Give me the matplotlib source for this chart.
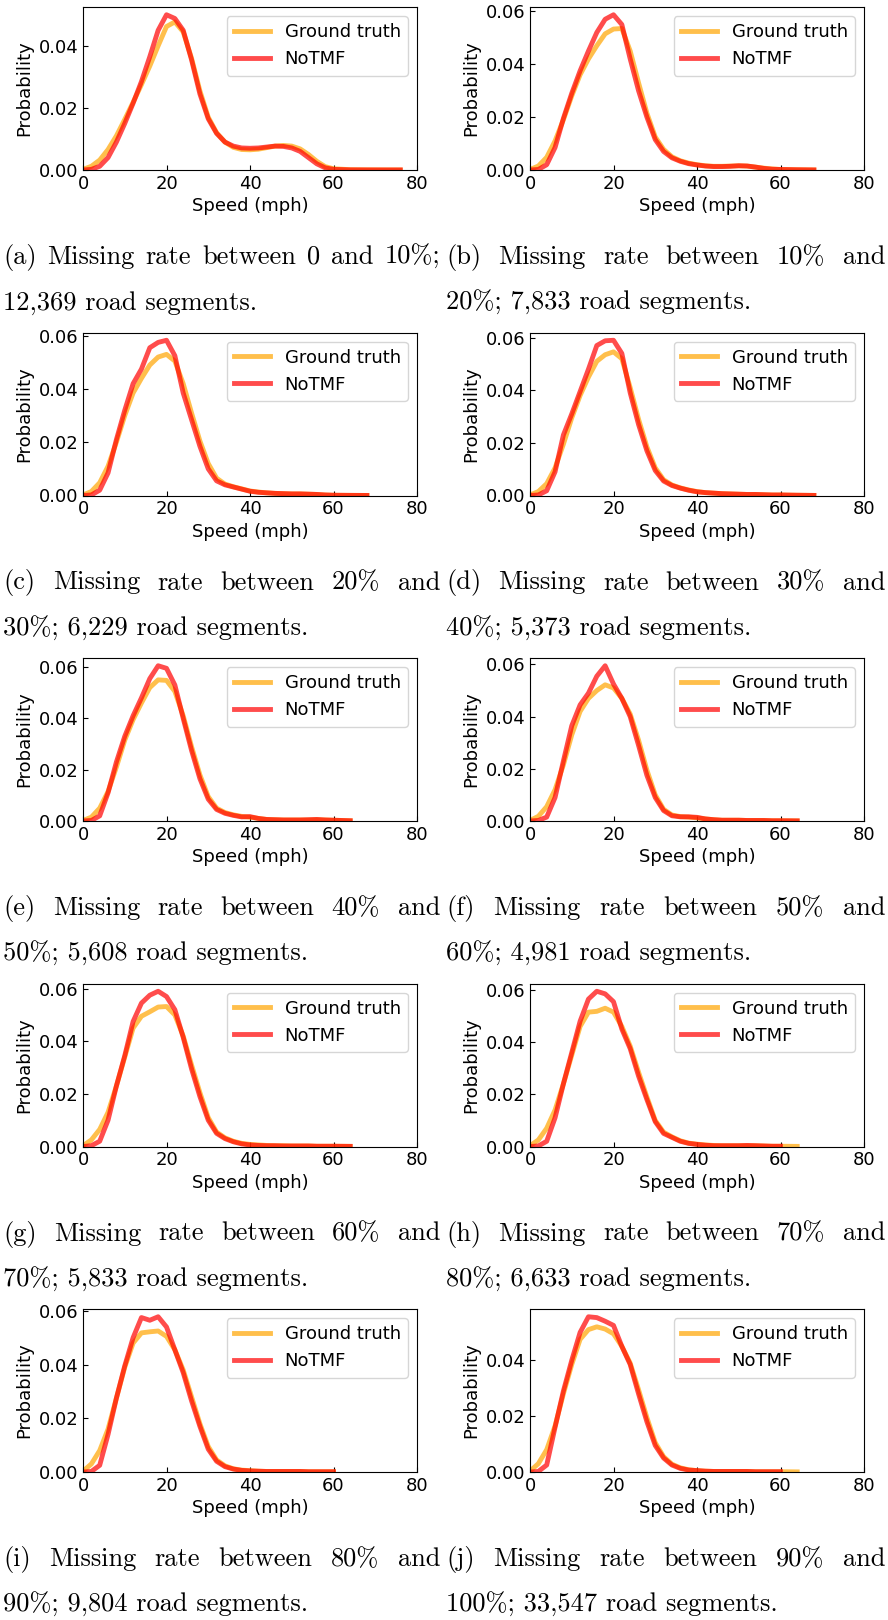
import numpy as np
import matplotlib
matplotlib.use('Agg')
import matplotlib.pyplot as plt
from matplotlib.ticker import MultipleLocator

nan = np.nan

# speed grid (mph) the curves were read on
SPEED = list(range(0, 61, 2)) + [64, 68, 72, 76]

# --- probability curves, one pair per panel ---
GT_A = [0.0002, 0.0012, 0.0032, 0.0066, 0.0110, 0.0163, 0.0218, 0.0275, 0.0335, 0.0400, 0.0462, 0.0477,
        0.0445, 0.0360, 0.0255, 0.0170, 0.0120, 0.0090, 0.0073, 0.0066, 0.0065, 0.0067, 0.0072, 0.0077,
        0.0079, 0.0077, 0.0068, 0.0050, 0.0028, 0.0011, 0.0004, 0.0001, 0.00005, 0.00003, 0.00002]
NT_A = [0.0, 0.0002, 0.0012, 0.0040, 0.0090, 0.0150, 0.0215, 0.0285, 0.0365, 0.0450, 0.0500, 0.0488,
        0.0450, 0.0355, 0.0245, 0.0165, 0.0118, 0.0090, 0.0077, 0.0071, 0.0070, 0.0071, 0.0074, 0.0077,
        0.0076, 0.0071, 0.0060, 0.0040, 0.0020, 0.0007, 0.0002, 0.00005, 0.00003, 0.00002, 0.00002]

GT_B = [0.0002, 0.0015, 0.0048, 0.0110, 0.0190, 0.0280, 0.0360, 0.0420, 0.0470, 0.0515, 0.0533, 0.0535,
        0.0450, 0.0330, 0.0215, 0.0125, 0.0078, 0.0050, 0.0035, 0.0026, 0.0020, 0.0016, 0.0014, 0.0014,
        0.0015, 0.0016, 0.0015, 0.0011, 0.0007, 0.0004, 0.0002, 0.0001, 0.00003, nan, nan]
NT_B = [0.0, 0.0002, 0.0020, 0.0085, 0.0195, 0.0290, 0.0375, 0.0450, 0.0520, 0.0570, 0.0587, 0.0550,
        0.0420, 0.0300, 0.0200, 0.0115, 0.0070, 0.0046, 0.0033, 0.0024, 0.0019, 0.0015, 0.0013, 0.0013,
        0.0014, 0.0016, 0.0015, 0.0011, 0.0006, 0.0003, 0.0002, 0.0001, 0.00003, nan, nan]

GT_C = [0.0002, 0.0015, 0.0048, 0.0110, 0.0200, 0.0300, 0.0385, 0.0440, 0.0490, 0.0520, 0.0530, 0.0505,
        0.0420, 0.0310, 0.0205, 0.0120, 0.0065, 0.0043, 0.0033, 0.0025, 0.0017, 0.0013, 0.0010, 0.0008,
        0.0007, 0.0006, 0.0006, 0.0005, 0.0004, 0.0002, 0.0001, 0.00005, 0.00002, nan, nan]
NT_C = [0.0, 0.0002, 0.0020, 0.0085, 0.0210, 0.0320, 0.0420, 0.0475, 0.0555, 0.0575, 0.0583, 0.0525,
        0.0385, 0.0285, 0.0185, 0.0100, 0.0055, 0.0040, 0.0032, 0.0024, 0.0016, 0.0012, 0.0010, 0.0008,
        0.0007, 0.0006, 0.0006, 0.0005, 0.0004, 0.0002, 0.0001, 0.00005, 0.00002, nan, nan]

GT_D = [0.0002, 0.0015, 0.0045, 0.0105, 0.0195, 0.0295, 0.0380, 0.0450, 0.0510, 0.0535, 0.0546, 0.0520,
        0.0410, 0.0290, 0.0185, 0.0105, 0.0060, 0.0040, 0.0029, 0.0021, 0.0015, 0.0011, 0.0009, 0.0007,
        0.0006, 0.0005, 0.0004, 0.0004, 0.0003, 0.0002, 0.0002, 0.0001, 0.00003, nan, nan]
NT_D = [0.0, 0.0002, 0.0018, 0.0090, 0.0230, 0.0310, 0.0395, 0.0480, 0.0570, 0.0588, 0.0590, 0.0540,
        0.0390, 0.0270, 0.0170, 0.0095, 0.0055, 0.0038, 0.0028, 0.0020, 0.0014, 0.0011, 0.0009, 0.0007,
        0.0006, 0.0005, 0.0004, 0.0004, 0.0003, 0.0002, 0.0002, 0.0001, 0.00003, nan, nan]

GT_E = [0.0002, 0.0015, 0.0050, 0.0115, 0.0210, 0.0315, 0.0395, 0.0460, 0.0520, 0.0550, 0.0548, 0.0505,
        0.0410, 0.0290, 0.0180, 0.0095, 0.0050, 0.0033, 0.0024, 0.0018, 0.0015, 0.0010, 0.0006, 0.0005,
        0.0004, 0.0004, 0.0004, 0.0004, 0.0005, 0.0004, 0.0003, 0.0001, nan, nan, nan]
NT_E = [0.0, 0.0002, 0.0020, 0.0110, 0.0230, 0.0330, 0.0410, 0.0480, 0.0555, 0.0605, 0.0595, 0.0530,
        0.0400, 0.0275, 0.0165, 0.0085, 0.0045, 0.0030, 0.0022, 0.0016, 0.0017, 0.0010, 0.0006, 0.0005,
        0.0004, 0.0004, 0.0004, 0.0005, 0.0006, 0.0004, 0.0003, 0.0001, nan, nan, nan]

GT_F = [0.0002, 0.0018, 0.0055, 0.0120, 0.0215, 0.0330, 0.0420, 0.0470, 0.0500, 0.0522, 0.0510, 0.0470,
        0.0410, 0.0310, 0.0195, 0.0100, 0.0045, 0.0023, 0.0017, 0.0015, 0.0012, 0.0008, 0.0005, 0.0003,
        0.0003, 0.0003, 0.0002, 0.0002, 0.0002, 0.0001, 0.0001, 0.00005, nan, nan, nan]
NT_F = [0.0, 0.0002, 0.0015, 0.0090, 0.0230, 0.0365, 0.0445, 0.0490, 0.0555, 0.0595, 0.0525, 0.0470,
        0.0400, 0.0290, 0.0175, 0.0090, 0.0040, 0.0020, 0.0016, 0.0016, 0.0014, 0.0008, 0.0005, 0.0003,
        0.0003, 0.0003, 0.0002, 0.0002, 0.0002, 0.0001, 0.0001, 0.00005, nan, nan, nan]

GT_G = [0.0003, 0.0025, 0.0065, 0.0130, 0.0230, 0.0340, 0.0450, 0.0495, 0.0512, 0.0530, 0.0532, 0.0500,
        0.0420, 0.0310, 0.0205, 0.0110, 0.0055, 0.0033, 0.0020, 0.0012, 0.0008, 0.0006, 0.0004, 0.0003,
        0.0003, 0.0002, 0.0002, 0.0002, 0.0001, 0.0001, 0.0001, 0.00005, nan, nan, nan]
NT_G = [0.0, 0.0003, 0.0020, 0.0100, 0.0230, 0.0345, 0.0475, 0.0545, 0.0575, 0.0590, 0.0570, 0.0520,
        0.0415, 0.0295, 0.0190, 0.0100, 0.0050, 0.0030, 0.0018, 0.0010, 0.0006, 0.0004, 0.0003, 0.0003,
        0.0002, 0.0002, 0.0002, 0.0002, 0.0001, 0.0001, 0.0001, 0.00005, nan, nan, nan]

GT_H = [0.0003, 0.0025, 0.0070, 0.0140, 0.0240, 0.0350, 0.0460, 0.0515, 0.0518, 0.0530, 0.0515, 0.0460,
        0.0385, 0.0285, 0.0190, 0.0100, 0.0055, 0.0037, 0.0022, 0.0013, 0.0009, 0.0006, 0.0004, 0.0003,
        0.0003, 0.0003, 0.0003, 0.0003, 0.0002, 0.0001, 0.0001, 0.00005, nan, nan, nan]
NT_H = [0.0, 0.0002, 0.0020, 0.0110, 0.0240, 0.0360, 0.0480, 0.0565, 0.0595, 0.0585, 0.0555, 0.0450,
        0.0375, 0.0270, 0.0180, 0.0095, 0.0050, 0.0035, 0.0020, 0.0012, 0.0008, 0.0005, 0.0003, 0.0003,
        0.0003, 0.0003, 0.0004, 0.0003, 0.0002, 0.0001, 0.0001, nan, nan, nan, nan]

GT_I = [0.0003, 0.0030, 0.0080, 0.0160, 0.0275, 0.0390, 0.0480, 0.0518, 0.0522, 0.0525, 0.0505, 0.0455,
        0.0380, 0.0280, 0.0180, 0.0095, 0.0045, 0.0023, 0.0012, 0.0007, 0.0005, 0.0003, 0.0002, 0.0002,
        0.0002, 0.0002, 0.0002, 0.0001, 0.0001, 0.0001, 0.0001, nan, nan, nan, nan]
NT_I = [0.0, 0.0002, 0.0025, 0.0140, 0.0275, 0.0395, 0.0500, 0.0575, 0.0565, 0.0578, 0.0540, 0.0455,
        0.0370, 0.0265, 0.0170, 0.0085, 0.0040, 0.0020, 0.0011, 0.0006, 0.0004, 0.0003, 0.0002, 0.0002,
        0.0002, 0.0002, 0.0002, 0.0001, 0.0001, 0.0001, 0.0001, nan, nan, nan, nan]

GT_J = [0.0003, 0.0030, 0.0080, 0.0165, 0.0280, 0.0385, 0.0475, 0.0510, 0.0520, 0.0512, 0.0495, 0.0450,
        0.0390, 0.0295, 0.0195, 0.0105, 0.0055, 0.0028, 0.0015, 0.0008, 0.0005, 0.0003, 0.0002, 0.0002,
        0.0002, 0.0002, 0.0002, 0.0001, 0.0001, 0.0001, 0.0001, 0.00005, nan, nan, nan]
NT_J = [0.0, 0.0002, 0.0025, 0.0160, 0.0290, 0.0400, 0.0500, 0.0556, 0.0553, 0.0540, 0.0525, 0.0450,
        0.0385, 0.0280, 0.0180, 0.0095, 0.0050, 0.0025, 0.0013, 0.0007, 0.0005, 0.0003, 0.0002, 0.0002,
        0.0002, 0.0002, 0.0002, 0.0001, 0.0001, 0.0001, 0.0001, nan, nan, nan, nan]

GROUND = [GT_A, GT_B, GT_C, GT_D, GT_E, GT_F, GT_G, GT_H, GT_I, GT_J]
NOTMF = [NT_A, NT_B, NT_C, NT_D, NT_E, NT_F, NT_G, NT_H, NT_I, NT_J]

LETTERS = 'abcdefghij'
RATE_LO = ['0', '10%', '20%', '30%', '40%', '50%', '60%', '70%', '80%', '90%']
RATE_HI = ['10%', '20%', '30%', '40%', '50%', '60%', '70%', '80%', '90%', '100%']
SEGMENTS = ['12,369', '7,833', '6,229', '5,373', '5,608', '4,981', '5,833', '6,633', '9,804', '33,547']

# --- layout, in pixels of the 888x1620 figure ---
W, H = 888, 1620
AX_LEFT = [83, 530]
AX_W, AX_H = 334, 163
ROW_BOTTOM0, ROW_STEP = 170, 325.5
CAP_X0 = [3, 446]
CAP_X1 = [440, 885]
CAP_FS = 19
CAP_FONT = ['cmr10', 'DejaVu Serif']

fig = plt.figure(figsize=(W / 100, H / 100), dpi=100)
renderer = fig.canvas.get_renderer()


def put_text(x, y, s):
    return fig.text(x / W, 1 - y / H, s, fontsize=CAP_FS, family=CAP_FONT, va='baseline', ha='left')


def justified(line, x0, x1, y):
    words = line.split(' ')
    texts = [put_text(0, y, w) for w in words]
    widths = [t.get_window_extent(renderer).width for t in texts]
    gap = (x1 - x0 - sum(widths)) / (len(words) - 1)
    x = x0
    for t, wd in zip(texts, widths):
        t.set_x(x / W)
        x += wd + gap


for k in range(10):
    row, col = divmod(k, 2)
    bottom = ROW_BOTTOM0 + ROW_STEP * row
    ax = fig.add_axes([AX_LEFT[col] / W, 1 - bottom / H, AX_W / W, AX_H / H])

    ax.plot(SPEED, np.array(GROUND[k], float), color='orange', alpha=0.7, lw=3.5, label='Ground truth')
    ax.plot(SPEED, np.array(NOTMF[k], float), color='red', alpha=0.7, lw=3.5, label='NoTMF')
    ax.set_xlim(0, 80)
    ax.set_ylim(bottom=0)
    ax.set_xticks([0, 20, 40, 60, 80])
    ax.yaxis.set_major_locator(MultipleLocator(0.02))
    ax.tick_params(direction='in', labelsize=13)
    ax.set_xlabel('Speed (mph)', fontsize=13, labelpad=3)
    ax.set_ylabel('Probability', fontsize=13)
    ax.legend(loc='upper right', fontsize=13)

    # caption under the panel, first line justified like LaTeX
    first = f'({LETTERS[k]}) Missing rate between {RATE_LO[k]} and'
    if k == 0:
        first += f' {RATE_HI[k]};'
        second = f'{SEGMENTS[k]} road segments.'
    else:
        second = f'{RATE_HI[k]}; {SEGMENTS[k]} road segments.'
    justified(first, CAP_X0[col], CAP_X1[col], bottom + 94)
    put_text(CAP_X0[col], bottom + 140, second)

fig.savefig('out.png', dpi=100)
